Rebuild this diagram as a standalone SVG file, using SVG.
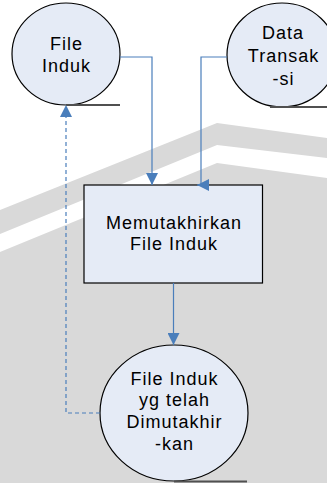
<svg xmlns="http://www.w3.org/2000/svg" width="327" height="483" viewBox="0 0 327 483">
  <style>
    .node { fill: #e5ebf6; stroke: #000000; stroke-width: 1.2; }
    .label { font-family: "Liberation Sans", Arial, sans-serif; font-size: 18px; letter-spacing: 1px; fill: #000000; text-anchor: middle; }
    .store { stroke: #505050; stroke-width: 2; fill: none; }
    .flow { stroke: #4a7ebb; stroke-width: 1.2; fill: none; marker-end: url(#arrow); }
    .flow.dashed { stroke-dasharray: 4 3; }
    .bg { fill: #d9d9d9; }
  </style>
  <defs>
    <marker id="arrow" markerUnits="userSpaceOnUse" markerWidth="12" markerHeight="12" refX="12" refY="6" orient="auto">
      <path d="M0,0 L12,6 L0,12 z" fill="#4a7ebb"/>
    </marker>
  </defs>

  <!-- background -->
  <rect x="0" y="0" width="327" height="483" fill="#ffffff"/>
  <polygon class="bg" points="0,210 217,123 327,138 327,158 217,145 0,234"/>
  <polygon class="bg" points="0,252 217,163 327,178 327,483 0,483"/>

  <!-- external entity: File Induk -->
  <g id="file-induk">
    <ellipse class="node" cx="66" cy="54" rx="54" ry="51"/>
    <path class="store" d="M66,105 H120"/>
    <text class="label" x="66.5" y="50">File</text>
    <text class="label" x="66.5" y="72">Induk</text>
  </g>

  <!-- external entity: Data Transaksi -->
  <g id="data-transaksi">
    <ellipse class="node" cx="282" cy="55" rx="55" ry="52"/>
    <path class="store" d="M270,107 H327"/>
    <text class="label" x="283" y="38.5">Data</text>
    <text class="label" x="283.5" y="61.7">Transak</text>
    <text class="label" x="283.5" y="85">-si</text>
  </g>

  <!-- process -->
  <g id="memutakhirkan">
    <rect class="node" x="84" y="185" width="178.5" height="98"/>
    <text class="label" x="174" y="229">Memutakhirkan</text>
    <text class="label" x="174" y="250">File Induk</text>
  </g>

  <!-- result: updated master file -->
  <g id="file-induk-baru">
    <ellipse class="node" cx="174" cy="413" rx="74" ry="68"/>
    <path class="store" d="M174,481.5 H247"/>
    <text class="label" x="174.5" y="384.5">File Induk</text>
    <text class="label" x="174.5" y="406.3">yg telah</text>
    <text class="label" x="174.5" y="428.2">Dimutakhir</text>
    <text class="label" x="174.5" y="450">-kan</text>
  </g>

  <!-- data flows -->
  <g id="connectors">
    <path class="flow" d="M120,57 H152 V185"/>
    <path class="flow" d="M227,57 H201 V185 H197"/>
    <path class="flow" d="M173.5,283 V345"/>
    <path class="flow dashed" d="M100,413 H66 V105"/>
  </g>
</svg>
